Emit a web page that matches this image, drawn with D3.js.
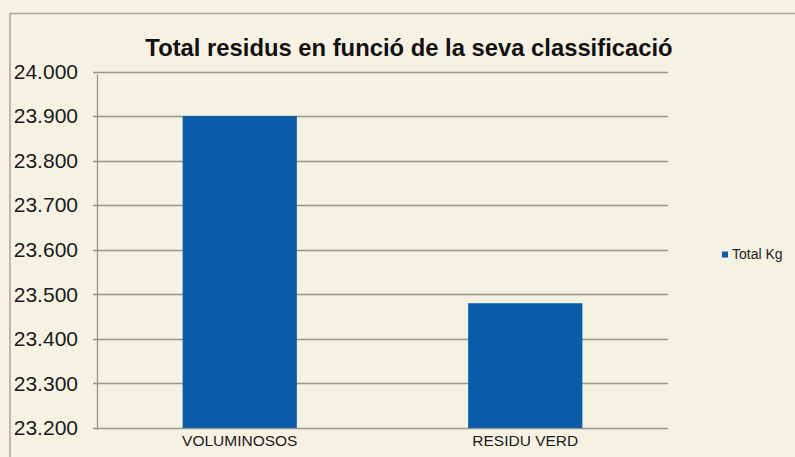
<!DOCTYPE html>
<html><head><meta charset="utf-8">
<script src="https://cdn.jsdelivr.net/npm/d3@7"></script>
<style>html,body{margin:0;padding:0;background:#f5f1e3;}</style>
</head><body>
<svg id="c" width="795" height="457"></svg>
<script>
const title = "Total residus en funció de la seva classificació";
const categories = ["VOLUMINOSOS", "RESIDU VERD"];
const values = [23900, 23480];
const tickValues = [23200, 23300, 23400, 23500, 23600, 23700, 23800, 23900, 24000];
const seriesName = "Total Kg";

(function () {
const svg = d3.select("#c");
const W = 795, H = 457;
svg.append("rect").attr("width", W).attr("height", H).attr("fill", "#f5f1e3");
// outer frame
svg.append("path").attr("d", "M10,457 V13.5 H795").attr("fill", "none").attr("stroke", "#a8a69c").attr("stroke-width", 1.5);

const mLeft = 97, mRight = 668, mTop = 71.5, mBottom = 428;
const y = d3.scaleLinear().domain([23200, 24000]).range([mBottom, mTop]);
const x = d3.scaleBand().domain(categories).range([mLeft, mRight]).paddingInner(0.6).paddingOuter(0.3);

// gridlines
svg.append("g").selectAll("line").data(tickValues).join("line")
  .attr("x1", mLeft - 4).attr("x2", mRight)
  .attr("y1", d => Math.round(y(d)) + 0.5).attr("y2", d => Math.round(y(d)) + 0.5)
  .attr("stroke", "#97958a").attr("stroke-width", 1.3);

// y axis
const fmt = d => d3.format(",.0f")(d).replace(",", ".");
const ya = svg.append("g").attr("transform", `translate(${mLeft},0)`)
  .call(d3.axisLeft(y).tickValues(tickValues).tickFormat(fmt).tickSize(0).tickPadding(19));
ya.select(".domain").remove();
ya.selectAll("text").attr("font-family", "Liberation Sans, Arial, sans-serif").attr("font-size", 21).attr("fill", "#1a1a1a");
svg.append("line").attr("x1", mLeft + 0.5).attr("x2", mLeft + 0.5).attr("y1", mTop + 3).attr("y2", mBottom + 2)
  .attr("stroke", "#97958a").attr("stroke-width", 1.3);

// bars
svg.append("g").selectAll("rect").data(values).join("rect")
  .attr("x", (d, i) => x(categories[i])).attr("width", x.bandwidth())
  .attr("y", d => y(d)).attr("height", d => mBottom - y(d))
  .attr("fill", "#0b5ca8");

// x axis labels
const xa = svg.append("g").attr("transform", `translate(0,${mBottom})`)
  .call(d3.axisBottom(x).tickSize(0).tickPadding(7));
xa.select(".domain").remove();
xa.selectAll("text").attr("font-family", "Liberation Sans, Arial, sans-serif").attr("font-size", 15.5).attr("fill", "#1a1a1a");

// title
svg.append("text").attr("x", 409).attr("y", 56).attr("text-anchor", "middle")
  .attr("font-family", "Liberation Sans, Arial, sans-serif").attr("font-weight", "bold").attr("font-size", 23.8)
  .attr("fill", "#111").text(title);

// legend
svg.append("rect").attr("x", 722).attr("y", 251.5).attr("width", 6).attr("height", 6).attr("fill", "#0b5ca8");
svg.append("text").attr("x", 732).attr("y", 259).attr("font-family", "Liberation Sans, Arial, sans-serif")
  .attr("font-size", 14).attr("fill", "#222").text(seriesName);
})();
</script>
</body></html>
